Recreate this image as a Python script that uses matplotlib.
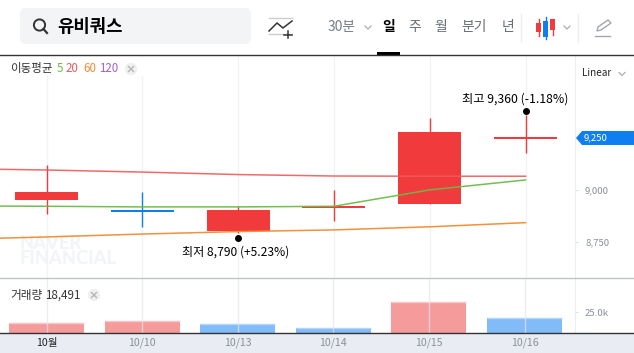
import matplotlib
matplotlib.use("Agg")
import matplotlib.pyplot as plt
from matplotlib.patches import Rectangle, Circle, FancyBboxPatch, Polygon

plt.rcParams['font.family'] = ['Noto Sans CJK KR', 'DejaVu Sans']

# ---- data ----
dates = ["10월", "10/10", "10/13", "10/14", "10/15", "10/16"]
opens = [8950, 8902, 8801, 8913, 8931, 9245]
closes = [8989, 8892, 8902, 8923, 9278, 9255]
highs = [9119, 8989, 8921, 8999, 9346, 9360]
lows = [8884, 8821, 8790, 8850, 8931, 9179]
ma_x = [-1, 0, 1, 2, 3, 4, 5]
ma5 = [8922, 8920, 8917, 8917, 8920, 8999, 9047]
ma20 = [9102, 9095, 9085, 9073, 9066, 9065, 9065]
ma60 = [8760, 8772, 8786, 8798, 8806, 8821, 8841]
volumes = [12000, 14500, 10900, 6000, 37400, 18491]
volume_up = [True, True, False, False, True, False]
price_ticks = [9000, 8750]
price_tick_labels = ["9,000", "8,750"]
volume_ticks = [25000]
volume_tick_labels = ["25.0k"]

RED, BLUE = "#f03a3c", "#0f7ef0"
GRID = "#f0f2f5"
GRAY = "#8a909c"
W, H = 634, 353

fig = plt.figure(figsize=(W / 100, H / 100), dpi=100, facecolor="white")


def pixel_axes(z):
    a = fig.add_axes([0, 0, 1, 1], zorder=z)
    a.set_xlim(0, W)
    a.set_ylim(H, 0)
    a.axis("off")
    return a


def box(x0, y0, x1, y1):
    return [x0 / W, 1 - y1 / H, (x1 - x0) / W, (y1 - y0) / H]


under = pixel_axes(0)
over = pixel_axes(10)

# ---- background chrome ----
under.add_patch(Rectangle((0, 334), W, 19, fc="#e9ecf2", ec="none"))
under.add_patch(FancyBboxPatch((25.5, 13.5), 220, 25, boxstyle="round,pad=0,rounding_size=0.1",
                               fc="#f3f4f6", ec="#f3f4f6", lw=8, joinstyle="round"))

# ---- price panel ----
ax = fig.add_axes(box(0, 56, 575, 278), zorder=2)
ax.patch.set_visible(False)
ax.set_xlim(-46.5 / 95.8, (575 - 46.5) / 95.8)
ax.set_ylim(8574, 9645)
ax.set_axisbelow(True)
for s in ax.spines.values():
    s.set_visible(False)
ax.spines["right"].set_visible(True)
ax.spines["right"].set_color("#eceef2")
ax.grid(axis="x", color=GRID, lw=1)
ax.set_xticks(range(len(dates)))
ax.tick_params(axis="x", length=0, labelbottom=False)
ax.yaxis.tick_right()
ax.set_yticks(price_ticks)
ax.set_yticklabels(price_tick_labels)
ax.tick_params(axis="y", length=2, color="#d5e3f2", pad=5.2, labelsize=6.9, labelcolor=GRAY)

for i, (o, c, h, l) in enumerate(zip(opens, closes, highs, lows)):
    col = RED if c >= o else BLUE
    ax.vlines(i, l, h, color=col, lw=1, zorder=3)
    ax.bar(i, abs(c - o), bottom=min(o, c), width=63 / 95.8, color=col, lw=0, zorder=3)

ax.plot(ma_x, ma20, color="#f0595b", lw=1.1, zorder=4, alpha=0.9)
ax.plot(ma_x, ma5, color="#6cbb46", lw=1.1, zorder=4, alpha=0.95)
ax.plot(ma_x, ma60, color="#f28b30", lw=1.1, zorder=4, alpha=0.95)

ax.plot([2], [min(lows) - 25], "o", color="black", ms=4, zorder=5)
ax.plot([5], [max(highs) + 20], "o", color="black", ms=4, zorder=5)

# ---- volume panel ----
vx = fig.add_axes(box(0, 278, 575, 333), zorder=2)
vx.patch.set_visible(False)
vx.set_xlim(-46.5 / 95.6, (575 - 46.5) / 95.6)
vx.set_ylim(0, 66300)
vx.set_axisbelow(False)
for s in vx.spines.values():
    s.set_visible(False)
vx.spines["right"].set_visible(True)
vx.spines["right"].set_color("#eceef2")
vx.grid(axis="x", color="#e4e6ea", lw=1, alpha=0.7)
for i, (v, up) in enumerate(zip(volumes, volume_up)):
    vx.bar(i, v, width=75 / 95.6, color="#f59b9c" if up else "#82bcf8", lw=0)
    vx.hlines(v, i - 75 / 191.2, i + 75 / 191.2, color="#f9c5c6" if up else "#b3d6fb", lw=1)
vx.set_xticks(range(len(dates)))
vx.set_xticklabels(dates)
vx.tick_params(axis="x", length=0, pad=3.6, labelsize=7.6, labelcolor=GRAY)
vx.get_xticklabels()[0].set_color("#222222")
vx.yaxis.tick_right()
vx.set_yticks(volume_ticks)
vx.set_yticklabels(volume_tick_labels)
vx.tick_params(axis="y", length=2, color="#d5e3f2", pad=5.2, labelsize=6.9, labelcolor=GRAY)

# ---- watermark ----
under.text(20, 251, "NAVER\nFINANCIAL", fontsize=13.2, family="Lato", weight="black",
           color="#f3f4f7", va="center", ha="left", linespacing=0.9)

# ---- rules ----
over.plot([0, W], [55, 55], color="#333333", lw=1)
over.plot([0, W], [278.4, 278.4], color="#bcc5cc", lw=1)
over.plot([0, W], [333.2, 333.2], color="#333333", lw=1)
over.add_patch(Rectangle((377, 52), 23, 3, fc="black", ec="none"))

# ---- header ----
over.add_patch(Circle((39.5, 25), 5.6, fc="none", ec="#333333", lw=1.4))
over.plot([43.5, 47], [29, 33], color="#333333", lw=1.6)
over.text(57, 27, "유비쿼스", fontsize=12.8, weight="bold", color="black", va="center")

over.plot([269, 292], [17.5, 17.5], color="#cccccc", lw=1)
over.plot([269, 292], [33.5, 33.5], color="#cccccc", lw=1)
over.plot([269, 277, 283, 292], [31, 23, 28, 21], color="#333333", lw=1.1)
over.plot([284, 292], [34.5, 34.5], color="#333333", lw=1.1)
over.plot([288, 288], [31, 38], color="#333333", lw=1.1)

over.text(328, 27.5, "30분", fontsize=10, color="#777d85", va="center")
for x, t, c, w in ((389, "일", "black", "bold"), (415, "주", "#666d75", "medium"),
                   (441, "월", "#666d75", "medium"), (474.5, "분기", "#666d75", "medium"),
                   (508, "년", "#666d75", "medium")):
    over.text(x, 27, t, fontsize=10, color=c, weight=w, va="center", ha="center")


def chevron(x, y):
    over.plot([x - 3, x, x + 3], [y - 1.5, y + 1.5, y - 1.5], color="#a9adb4", lw=0.9)


chevron(368, 27.5)
chevron(567, 27.5)
chevron(622, 74)
over.plot([521, 521], [14, 42], color="#eceef1", lw=1)
over.plot([578, 578], [14, 42], color="#eceef1", lw=1)

# candle icon
over.plot([538.5, 538.5], [19, 36], color=RED, lw=1)
over.add_patch(Rectangle((536, 23), 5, 9, fc=RED, ec="none"))
over.plot([545.5, 545.5], [17, 39], color=BLUE, lw=1)
over.add_patch(Rectangle((543, 21), 5, 16, fc=BLUE, ec="none"))
over.plot([552.5, 552.5], [19, 35], color=RED, lw=1)
over.add_patch(Rectangle((550, 19), 5, 11, fc=RED, ec="none"))

# pencil icon
over.add_patch(Polygon([[597, 31], [598, 27], [608, 20], [611, 23], [601, 30]], closed=True,
                       fc="none", ec="#a3a7ad", lw=1))
over.plot([595, 610], [35.5, 35.5], color="#a3a7ad", lw=1)

# ---- moving-average legend ----
over.add_patch(Rectangle((0, 56.5), 190, 19, fc="white", ec="none", zorder=1))
for x, t, c in ((10, "이동평균", "#333333"), (57, "5", "#6cbb46"), (66, "20", "#f0595b"),
                (83, "60", "#f28b30"), (99, "120", "#a35fd0")):
    over.text(x, 68.5, t, fontsize=8.3, color=c, va="center", zorder=2)


def close_button(x, y):
    over.add_patch(Circle((x, y), 6.2, fc="#f0f0f0", ec="none", zorder=2))
    over.plot([x - 2.5, x + 2.5], [y - 2.5, y + 2.5], color="#b5b5b5", lw=1, zorder=3)
    over.plot([x - 2.5, x + 2.5], [y + 2.5, y - 2.5], color="#b5b5b5", lw=1, zorder=3)


close_button(131, 69)
over.text(582, 73, "Linear", fontsize=7.2, color="#222222", va="center")

# ---- annotations ----
over.text(462, 99, "최고 9,360 (-1.18%)", fontsize=8.8, color="black", va="center")
over.text(182, 252, "최저 8,790 (+5.23%)", fontsize=8.7, color="black", va="center")

# ---- current price tag ----
over.add_patch(Polygon([[576, 138], [582, 131], [634, 131], [634, 145], [582, 145]], closed=True,
                       fc=BLUE, ec="none"))
over.text(584, 137.5, "9,250", fontsize=6.9, color="white", va="center")

# ---- volume legend ----
over.text(10, 295, "거래량", fontsize=8.4, color="#333333", va="center")
over.text(45, 295, "18,491", fontsize=8.4, color="#333333", va="center")
close_button(94, 295)

fig.savefig("out.png", dpi=100)
